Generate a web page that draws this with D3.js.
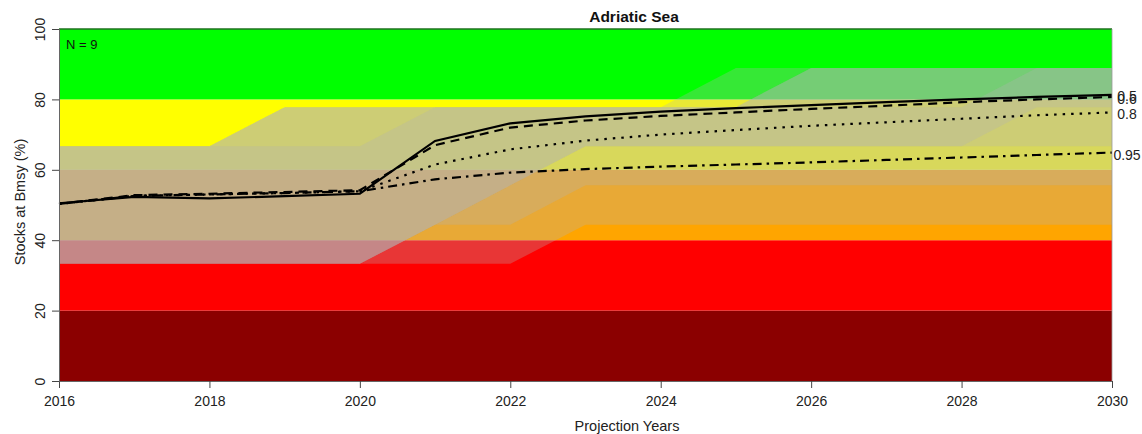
<!DOCTYPE html>
<html>
<head>
<meta charset="utf-8">
<script src="https://cdn.jsdelivr.net/npm/d3@7"></script>
<style>
  html, body { margin: 0; padding: 0; background: #fff; }
  svg { display: block; font-family: "Liberation Sans", Arial, sans-serif; }
</style>
</head>
<body>
<svg id="chart" width="1142" height="434"></svg>
<script>
// ---- data ----
const years = [2016, 2017, 2018, 2019, 2020, 2021, 2022, 2023, 2024, 2025, 2026, 2027, 2028, 2029, 2030];
const xTicks = [2016, 2018, 2020, 2022, 2024, 2026, 2028, 2030];
const yTicks = [0, 20, 40, 60, 80, 100];

// status bands (Bmsy %)
const bandLower = [0, 20, 40, 60, 80];
const bandUpper = [20, 40, 60, 80, 100];
const bandColors = ["#8B0000", "#FF0000", "#FFA500", "#FFFF00", "#00FF00"];

// shaded ranges (share of the 9 stocks)
const rangeTop1 = [66.7, 66.7, 66.7, 77.8, 77.8, 77.8, 77.8, 77.8, 77.8, 88.9, 88.9, 88.9, 88.9, 88.9, 88.9];
const rangeBot1 = [33.3, 33.3, 33.3, 33.3, 33.3, 33.3, 33.3, 44.4, 44.4, 44.4, 44.4, 44.4, 44.4, 44.4, 44.4];
const rangeTop2 = [66.7, 66.7, 66.7, 77.8, 77.8, 77.8, 77.8, 77.8, 77.8, 77.8, 88.9, 88.9, 88.9, 88.9, 88.9];
const rangeBot2 = [33.3, 33.3, 33.3, 33.3, 33.3, 44.4, 44.4, 55.6, 55.6, 55.6, 55.6, 55.6, 55.6, 55.6, 55.6];
const rangeTop3 = [66.7, 66.7, 66.7, 77.8, 77.8, 77.8, 77.8, 77.8, 77.8, 77.8, 88.9, 88.9, 88.9, 88.9, 88.9];
const rangeBot3 = [33.3, 33.3, 33.3, 33.3, 33.3, 44.4, 55.6, 66.7, 66.7, 66.7, 66.7, 66.7, 66.7, 66.7, 66.7];
const rangeTop4 = [66.7, 66.7, 66.7, 66.7, 66.7, 77.8, 77.8, 77.8, 77.8, 77.8, 77.8, 77.8, 77.8, 88.9, 88.9];
const rangeBot4 = [33.3, 33.3, 33.3, 33.3, 33.3, 44.4, 55.6, 66.7, 66.7, 66.7, 66.7, 66.7, 66.7, 77.8, 77.8];

// probability lines
const seriesNames = ["0.5", "0.6", "0.8", "0.95"];
const p50 = [50.5, 52.3, 51.9, 52.5, 53.2, 68.2, 73.2, 75.2, 76.5, 77.5, 78.4, 79.2, 80.0, 80.7, 81.3];
const p60 = [50.3, 52.8, 53.2, 53.7, 54.2, 67.0, 72.0, 74.0, 75.3, 76.3, 77.3, 78.2, 79.2, 80.0, 80.7];
const p80 = [50.3, 52.6, 53.0, 53.4, 53.9, 61.5, 65.8, 68.3, 70.0, 71.3, 72.5, 73.5, 74.5, 75.5, 76.3];
const p95 = [50.3, 52.6, 53.0, 53.4, 53.9, 57.3, 59.2, 60.2, 60.9, 61.5, 62.1, 62.8, 63.5, 64.2, 64.9];

const titleText = "Adriatic Sea";
const xTitle = "Projection Years";
const yTitle = "Stocks at Bmsy (%)";
const nLabel = "N = 9";

// ---- layout ----
const svg = d3.select("#chart");
const x = d3.scaleLinear().domain([2016, 2030]).range([59, 1112]);
const y = d3.scaleLinear().domain([0, 100]).range([381, 29]);

// bands
svg.append("g").selectAll("rect")
  .data(bandLower.map((lo, i) => ({lo, hi: bandUpper[i], c: bandColors[i]})))
  .join("rect")
  .attr("x", x(2016)).attr("width", x(2030) - x(2016))
  .attr("y", d => y(d.hi)).attr("height", d => y(d.lo) - y(d.hi))
  .attr("fill", d => d.c);

// shaded ranges
const ranges = [[rangeBot1, rangeTop1], [rangeBot2, rangeTop2], [rangeBot3, rangeTop3], [rangeBot4, rangeTop4]];
const area = d3.area()
  .x(d => x(d.yr)).y0(d => y(d.lo)).y1(d => y(d.hi));
svg.append("g").selectAll("path")
  .data(ranges.map(([b, t]) => years.map((yr, i) => ({yr, lo: b[i], hi: t[i]}))))
  .join("path")
  .attr("d", area)
  .attr("fill", "rgb(179,179,179)")
  .attr("fill-opacity", 0.3)
  .attr("stroke", "none");

// top line
svg.append("line")
  .attr("x1", x(2016)).attr("x2", x(2030)).attr("y1", y(100)).attr("y2", y(100))
  .attr("stroke", "#1f6f1f").attr("stroke-width", 1.5);

// lines
const series = [p50, p60, p80, p95];
const dashes = [null, "9,6", "2.5,6", "2.5,5,9,5"];
const line = d3.line().x((d, i) => x(years[i])).y(d => y(d));
svg.append("g").selectAll("path")
  .data(series)
  .join("path")
  .attr("d", line)
  .attr("fill", "none")
  .attr("stroke", "#000")
  .attr("stroke-width", 2.2)
  .attr("stroke-dasharray", (d, i) => dashes[i]);

// end labels (0.5 and 0.6 overprint each other, as in the original)
const labelDy = [1, 2, 2, 2];
svg.append("g").selectAll("text")
  .data(series)
  .join("text")
  .attr("x", 1127)
  .attr("y", (d, i) => y(d[d.length - 1]) + labelDy[i])
  .attr("text-anchor", "middle")
  .attr("dominant-baseline", "central")
  .attr("font-size", 14)
  .attr("fill", "#222")
  .text((d, i) => seriesNames[i]);

// axes
const xAxis = svg.append("g").attr("transform", `translate(0,${y(0)})`)
  .call(d3.axisBottom(x).tickValues(xTicks).tickFormat(d3.format("d")).tickSize(7).tickPadding(8));
xAxis.select(".domain").attr("stroke", "#666");
xAxis.selectAll(".tick line").attr("stroke", "#444");
xAxis.selectAll("text").attr("font-size", 14).attr("fill", "#222").attr("font-family", "Liberation Sans, Arial, sans-serif");

const yAxis = svg.append("g").attr("transform", `translate(${x(2016)},0)`)
  .call(d3.axisLeft(y).tickValues(yTicks).tickSize(7));
yAxis.select(".domain").attr("stroke", "#666");
yAxis.selectAll(".tick line").attr("stroke", "#444");
yAxis.selectAll("text")
  .attr("font-size", 14).attr("fill", "#222").attr("font-family", "Liberation Sans, Arial, sans-serif")
  .attr("x", null).attr("dy", null)
  .attr("text-anchor", "middle")
  .attr("transform", "translate(-14,0) rotate(-90)");

// right edge line
svg.append("line")
  .attr("x1", x(2030)).attr("x2", x(2030)).attr("y1", y(100)).attr("y2", y(0))
  .attr("stroke", "#999").attr("stroke-width", 0.8);

// titles
svg.append("text").attr("x", 634).attr("y", 22).attr("text-anchor", "middle")
  .attr("font-size", 15.5).attr("font-weight", "bold").attr("fill", "#111").text(titleText);
svg.append("text").attr("x", 627).attr("y", 431).attr("text-anchor", "middle")
  .attr("font-size", 14.5).attr("fill", "#222").text(xTitle);
svg.append("text").attr("transform", "translate(25,202) rotate(-90)").attr("text-anchor", "middle")
  .attr("font-size", 14.5).attr("fill", "#222").text(yTitle);
svg.append("text").attr("x", 66).attr("y", 49)
  .attr("font-size", 13).attr("fill", "#111").text(nLabel);
</script>
</body>
</html>
